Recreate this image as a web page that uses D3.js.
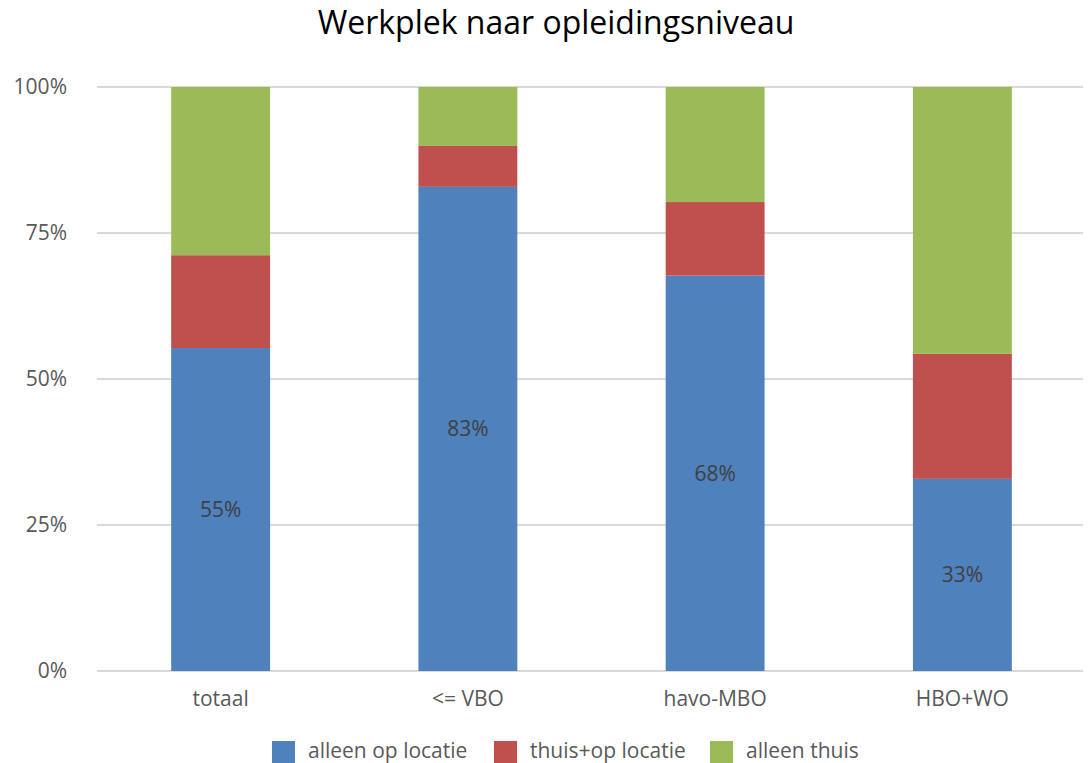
<!DOCTYPE html>
<html>
<head>
<meta charset="utf-8">
<script src="https://cdn.jsdelivr.net/npm/d3@7/dist/d3.min.js"></script>
<style>
  body { margin: 0; background: #fff; }
  text { font-family: "Open Sans", sans-serif; }
</style>
</head>
<body>
<div id="chart"></div>
<script>
var categories = ["totaal", "<= VBO", "havo-MBO", "HBO+WO"];
var seriesNames = ["alleen op locatie", "thuis+op locatie", "alleen thuis"];
var aleenOpLocatie = [0.553, 0.829, 0.677, 0.329];
var thuisOpLocatie = [0.159, 0.070, 0.126, 0.214];
var alleenThuis = [0.288, 0.101, 0.197, 0.457];
var yTicks = [0, 0.25, 0.5, 0.75, 1];
var colors = ["#4F81BD", "#C0504D", "#9BBB59"];

var w = 1089, h = 763;
var margin = { top: 87, right: 3, bottom: 92, left: 97 };

var svg = d3.select("#chart").append("svg")
  .attr("width", w)
  .attr("height", h);

var rows = categories.map((c, i) => ({
  cat: c,
  a: aleenOpLocatie[i],
  b: thuisOpLocatie[i],
  c: alleenThuis[i]
}));
var stack = d3.stack().keys(["a", "b", "c"])(rows);

var x = d3.scaleBand()
  .domain(categories)
  .range([margin.left, w - margin.right])
  .paddingInner(0.6)
  .paddingOuter(0.3);

var y = d3.scaleLinear()
  .domain([0, 1])
  .range([h - margin.bottom, margin.top]);

// gridlines
svg.append("g")
  .selectAll("line")
  .data(yTicks)
  .enter().append("line")
  .attr("x1", margin.left)
  .attr("x2", w - 6)
  .attr("y1", d => y(d))
  .attr("y2", d => y(d))
  .attr("stroke", "#D9D9D9")
  .attr("stroke-width", 2);

// y labels
svg.append("g")
  .selectAll("text")
  .data(yTicks)
  .enter().append("text")
  .attr("x", 67)
  .attr("y", d => y(d))
  .attr("dy", "0.35em")
  .attr("text-anchor", "end")
  .style("font-size", "21px")
  .attr("fill", "#595959")
  .text(d => d3.format(".0%")(d));

// bars
svg.append("g")
  .selectAll("g")
  .data(stack)
  .enter().append("g")
  .attr("fill", (d, i) => colors[i])
  .selectAll("rect")
  .data(d => d)
  .enter().append("rect")
  .attr("x", d => x(d.data.cat))
  .attr("y", d => y(d[1]))
  .attr("width", x.bandwidth())
  .attr("height", d => y(d[0]) - y(d[1]));

// value labels on blue segment
svg.append("g")
  .selectAll("text")
  .data(stack[0])
  .enter().append("text")
  .attr("x", d => x(d.data.cat) + x.bandwidth() / 2)
  .attr("y", d => (y(d[0]) + y(d[1])) / 2)
  .attr("dy", "0.35em")
  .attr("text-anchor", "middle")
  .style("font-size", "21px")
  .attr("fill", "#404040")
  .text(d => d3.format(".0%")(d[1] - d[0]));

// category labels
svg.append("g")
  .selectAll("text")
  .data(categories)
  .enter().append("text")
  .attr("x", d => x(d) + x.bandwidth() / 2)
  .attr("y", 699)
  .attr("dy", "0.35em")
  .attr("text-anchor", "middle")
  .style("font-size", "21px")
  .attr("fill", "#595959")
  .text(d => d);

// title
svg.append("text")
  .attr("x", 556)
  .attr("y", 34)
  .attr("text-anchor", "middle")
  .style("font-size", "32px")
  .attr("fill", "#000")
  .text("Werkplek naar opleidingsniveau");

// legend
var legendX = [272, 494, 710];
var legend = svg.append("g")
  .selectAll("g")
  .data(seriesNames)
  .enter().append("g")
  .attr("transform", (d, i) => "translate(" + legendX[i] + ",741)");
legend.append("rect")
  .attr("width", 23)
  .attr("height", 23)
  .attr("fill", (d, i) => colors[i]);
legend.append("text")
  .attr("x", 36)
  .attr("y", 10)
  .attr("dy", "0.35em")
  .style("font-size", "21px")
  .attr("fill", "#595959")
  .text(d => d);
</script>
</body>
</html>
